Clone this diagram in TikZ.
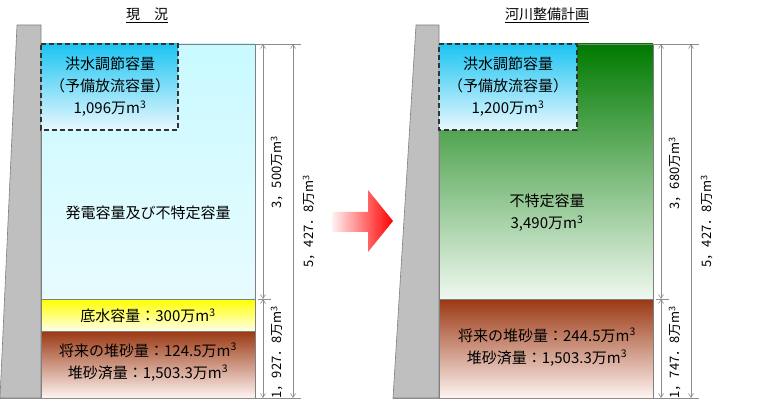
\documentclass[tikz,border=0pt]{standalone}
\usepackage{fontspec}
\setmainfont{Noto Sans CJK JP}
\usetikzlibrary{arrows.meta,positioning}
\definecolor{damgray}{HTML}{BFBFBF}
\definecolor{damedge}{HTML}{7F7F7F}
\definecolor{dimgray}{HTML}{8C8C8C}
\definecolor{floodtop}{HTML}{1CC4F2}
\definecolor{floodbot}{HTML}{E8F8FE}
\definecolor{powertop}{HTML}{C8FAFF}
\definecolor{powerbot}{HTML}{E8FBFF}
\definecolor{deadtop}{HTML}{FFFF00}
\definecolor{deadbot}{HTML}{FFFFE8}
\definecolor{sandtop}{HTML}{9A3812}
\definecolor{sandbot}{HTML}{FFF4F2}
\definecolor{greentop}{HTML}{007A00}
\definecolor{greenbot}{HTML}{F0F8F0}
\definecolor{arrowlight}{HTML}{FFF2F2}
\newcommand{\mcube}{m\textsuperscript{3}}

\begin{document}
\begin{tikzpicture}[x=1pt,y=-1pt,
    lbl/.style={font=\fontsize{15}{22}\selectfont, align=center, inner sep=0pt},
    ttl/.style={font=\fontsize{14}{16}\selectfont, inner sep=0pt},
    dimlbl/.style={font=\fontsize{13}{15}\selectfont, rotate=90, inner sep=0pt},
    dimline/.style={draw=dimgray, line width=0.6pt,
        {Straight Barb[length=4pt,width=5pt]}-{Straight Barb[length=4pt,width=5pt]}},
    extline/.style={draw=dimgray, line width=0.6pt},
    dam/.style={fill=damgray, draw=damedge, line width=0.6pt},
    box/.style={draw=damedge, line width=0.6pt},
    floodbox/.style={draw=black!80, line width=1.2pt, dash pattern=on 5pt off 3pt}]
    \useasboundingbox (0,0) rectangle (758,406);

%current state
    \node[ttl] (titleL) at (147,15) {\underline{現　況}};
    \fill[dam] (17,25) -- (41,25) -- (41,398) -- (0,398) -- cycle;
    \shade[box, top color=powertop, bottom color=powerbot] (41,44) rectangle (255,299);
    \shade[box, top color=deadtop, bottom color=deadbot] (41,299) rectangle (255,331);
    \shade[box, top color=sandtop, bottom color=sandbot] (41,331) rectangle (255,398);
    \shade[top color=floodtop, bottom color=floodbot] (41,44) rectangle (178,130);
    \draw[floodbox] (41,44) -- (178,44) -- (178,130) -- (41,130) -- cycle;

    \node[lbl] (floodL) at (110,87) {洪水調節容量\\（予備放流容量）\\1,096万\mcube};
    \node[lbl] (powerL) at (148,213) {発電容量及び不特定容量};
    \node[lbl] (deadL) at (148,316) {底水容量：300万\mcube};
    \node[lbl] (sandL) at (148,362) {将来の堆砂量：124.5万\mcube\\堆砂済量：1,503.3万\mcube};

    \coordinate (topL) at (255,44);
    \coordinate (topLend) at (301,44);
    \coordinate (botL) at (0,398);
    \coordinate (botLend) at (301,398);
    \coordinate (midLa) at (258,299);
    \coordinate (midLb) at (271,299);
    \coordinate (inTopL) at (263,44);
    \coordinate (inMidL) at (263,299);
    \coordinate (inBotL) at (263,398);
    \coordinate (outTopL) at (293,44);
    \coordinate (outBotL) at (293,398);
    \draw[extline] (topL) -- (topLend);
    \draw[extline] (botL) -- (botLend);
    \draw[extline] (midLa) -- (midLb);
    \draw[dimline] (inTopL) -- (inMidL);
    \draw[dimline] (inMidL) -- (inBotL);
    \draw[dimline] (outTopL) -- (outBotL);
    \node[dimlbl] (upperL) at (277,172) {3，500万\mcube};
    \node[dimlbl] (lowerL) at (277,352) {1，927．8万\mcube};
    \node[dimlbl] (totalL) at (309,221) {5，427．8万\mcube};

%arrow
    \shade[left color=arrowlight, right color=red] (332,212) -- (368,212) -- (368,190)
        -- (393,221) -- (368,252) -- (368,232) -- (332,232) -- cycle;

%river plan
    \node[ttl] (titleR) at (547,15) {\underline{河川整備計画}};
    \fill[dam] (416,25) -- (439,25) -- (439,398) -- (393,398) -- cycle;
    \shade[box, top color=greentop, bottom color=greenbot] (439,44) rectangle (653,299);
    \shade[box, top color=sandtop, bottom color=sandbot] (439,299) rectangle (653,398);
    \shade[top color=floodtop, bottom color=floodbot] (439,44) rectangle (577,130);
    \draw[floodbox] (439,44) -- (577,44) -- (577,130) -- (439,130) -- cycle;

    \node[lbl] (floodR) at (508,87) {洪水調節容量\\（予備放流容量）\\1,200万\mcube};
    \node[lbl] (greenR) at (547,213) {不特定容量\\3,490万\mcube};
    \node[lbl] (sandR) at (547,347) {将来の堆砂量：244.5万\mcube\\堆砂済量：1,503.3万\mcube};

    \coordinate (topR) at (653,44);
    \coordinate (topRend) at (699,44);
    \coordinate (botR) at (393,398);
    \coordinate (botRend) at (699,398);
    \coordinate (midRa) at (656,299);
    \coordinate (midRb) at (669,299);
    \coordinate (inTopR) at (661,44);
    \coordinate (inMidR) at (661,299);
    \coordinate (inBotR) at (661,398);
    \coordinate (outTopR) at (691,44);
    \coordinate (outBotR) at (691,398);
    \draw[extline] (topR) -- (topRend);
    \draw[extline] (botR) -- (botRend);
    \draw[extline] (midRa) -- (midRb);
    \draw[dimline] (inTopR) -- (inMidR);
    \draw[dimline] (inMidR) -- (inBotR);
    \draw[dimline] (outTopR) -- (outBotR);
    \node[dimlbl] (upperR) at (675,173) {3，680万\mcube};
    \node[dimlbl] (lowerR) at (675,352) {1，747．8万\mcube};
    \node[dimlbl] (totalR) at (707,221) {5，427．8万\mcube};
\end{tikzpicture}
\end{document}
